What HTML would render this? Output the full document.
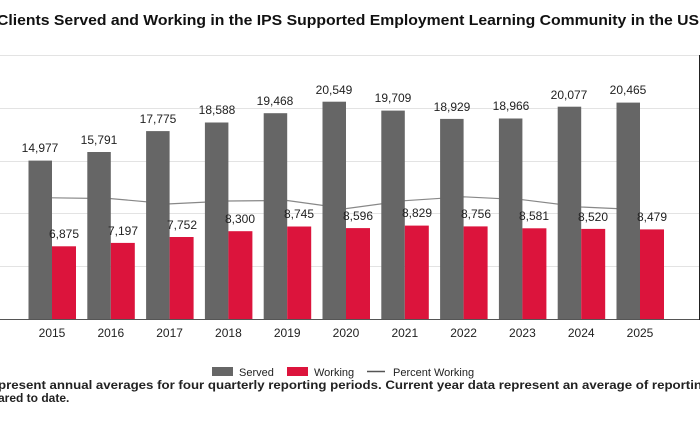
<!DOCTYPE html>
<html><head><meta charset="utf-8"><style>
html,body{margin:0;padding:0;background:#fff;overflow:hidden;width:700px;height:441px}
svg{display:block;font-family:"Liberation Sans",Arial,sans-serif}
</style></head><body>
<svg width="700" height="441" viewBox="0 0 700 441" xmlns="http://www.w3.org/2000/svg">
<text x="-3" y="25" font-size="15" font-weight="bold" fill="#111" textLength="702" lengthAdjust="spacingAndGlyphs">Clients Served and Working in the IPS Supported Employment Learning Community in the US</text>
<g stroke="#e3e3e3" stroke-width="1">
<line x1="0" y1="55.5" x2="699" y2="55.5"/>
<line x1="0" y1="108.5" x2="699" y2="108.5"/>
<line x1="0" y1="161.5" x2="699" y2="161.5"/>
<line x1="0" y1="213.5" x2="699" y2="213.5"/>
<line x1="0" y1="266.5" x2="699" y2="266.5"/>
</g>
<polyline fill="none" stroke="#888" stroke-width="1.2" points="52,197.8 110.8,198.6 169.6,203.9 228.4,201 287.2,200.5 346,208.6 404.8,200.7 463.6,196.8 522.4,199.7 581.2,207 640,209.7"/>
<g fill="#666">
<rect x="28.5" y="160.6" width="23.5" height="158.4"/>
<rect x="87.3" y="152" width="23.5" height="167"/>
<rect x="146.1" y="131.1" width="23.5" height="187.9"/>
<rect x="204.9" y="122.5" width="23.5" height="196.5"/>
<rect x="263.7" y="113.2" width="23.5" height="205.8"/>
<rect x="322.5" y="101.7" width="23.5" height="217.3"/>
<rect x="381.3" y="110.6" width="23.5" height="208.4"/>
<rect x="440.1" y="118.9" width="23.5" height="200.1"/>
<rect x="498.9" y="118.5" width="23.5" height="200.5"/>
<rect x="557.7" y="106.7" width="23.5" height="212.3"/>
<rect x="616.5" y="102.6" width="23.5" height="216.4"/>
</g>
<g fill="#dc143c">
<rect x="52" y="246.3" width="24" height="72.7"/>
<rect x="110.8" y="242.9" width="24" height="76.1"/>
<rect x="169.6" y="237" width="24" height="82"/>
<rect x="228.4" y="231.2" width="24" height="87.8"/>
<rect x="287.2" y="226.5" width="24" height="92.5"/>
<rect x="346" y="228.1" width="24" height="90.9"/>
<rect x="404.8" y="225.6" width="24" height="93.4"/>
<rect x="463.6" y="226.4" width="24" height="92.6"/>
<rect x="522.4" y="228.3" width="24" height="90.7"/>
<rect x="581.2" y="228.9" width="24" height="90.1"/>
<rect x="640" y="229.4" width="24" height="89.6"/>
</g>
<line x1="0" y1="319.5" x2="699" y2="319.5" stroke="#555" stroke-width="1"/>
<line x1="699.5" y1="55" x2="699.5" y2="320" stroke="#222" stroke-width="1"/>
<g font-size="12" fill="#222" text-anchor="middle">
<text x="40" y="152">14,977</text>
<text x="99" y="144">15,791</text>
<text x="158" y="123">17,775</text>
<text x="217" y="114">18,588</text>
<text x="275" y="105">19,468</text>
<text x="334" y="94">20,549</text>
<text x="393" y="102">19,709</text>
<text x="452" y="111">18,929</text>
<text x="511" y="110">18,966</text>
<text x="569" y="99">20,077</text>
<text x="628" y="94">20,465</text>
<text x="64" y="238">6,875</text>
<text x="123" y="235">7,197</text>
<text x="182" y="229">7,752</text>
<text x="240" y="223">8,300</text>
<text x="299" y="218">8,745</text>
<text x="358" y="220">8,596</text>
<text x="417" y="217">8,829</text>
<text x="476" y="218">8,756</text>
<text x="534" y="220">8,581</text>
<text x="593" y="221">8,520</text>
<text x="652" y="221">8,479</text>
</g>
<g font-size="12" fill="#222" text-anchor="middle">
<text x="52" y="337">2015</text>
<text x="110.8" y="337">2016</text>
<text x="169.6" y="337">2017</text>
<text x="228.4" y="337">2018</text>
<text x="287.2" y="337">2019</text>
<text x="346" y="337">2020</text>
<text x="404.8" y="337">2021</text>
<text x="463.6" y="337">2022</text>
<text x="522.4" y="337">2023</text>
<text x="581.2" y="337">2024</text>
<text x="640" y="337">2025</text>
</g>
<rect x="212" y="367" width="21" height="9" fill="#666"/>
<text x="239" y="376" font-size="11" fill="#222">Served</text>
<rect x="287" y="367" width="21" height="9" fill="#dc143c"/>
<text x="314" y="376" font-size="11" fill="#222">Working</text>
<line x1="367" y1="371.5" x2="385" y2="371.5" stroke="#555" stroke-width="1.5"/>
<text x="393" y="376" font-size="11" fill="#222">Percent Working</text>
<text x="-2" y="389" font-size="12" font-weight="bold" fill="#222" textLength="704" lengthAdjust="spacingAndGlyphs">present annual averages for four quarterly reporting periods. Current year data represent an average of reportin</text>
<text x="-2" y="402" font-size="12" font-weight="bold" fill="#222">ared to date.</text>
</svg>
</body></html>
